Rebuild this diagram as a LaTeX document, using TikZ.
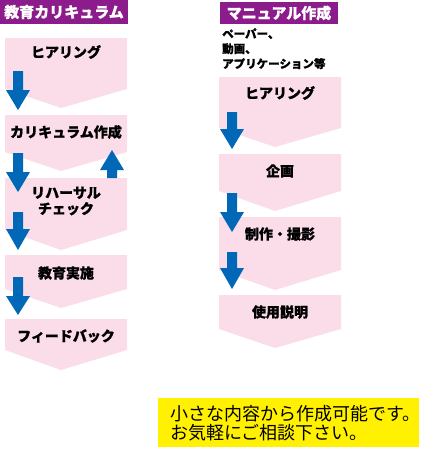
\documentclass[tikz,border=0pt]{standalone}
\usepackage{fontspec}
\setmainfont{Noto Sans CJK JP}[BoldFeatures={FakeBold=0.8}]
\definecolor{hdr}{HTML}{8C1C8C}
\definecolor{pinkbox}{HTML}{FADDE9}
\definecolor{arrblue}{HTML}{0068B7}
\definecolor{yel}{HTML}{FFF100}
\newcommand\chev[5]{\fill[pinkbox] (#1,#3) -- (#2,#3) -- (#2,#4) -- ({(#1+#2)/2-5},#5) -- (#1,#4) -- cycle;}
\newcommand\barrow[4]{\fill[arrblue] (#1-5,#2) -- (#1+5,#2) -- (#1+5,#3) -- (#1+12,#3) -- (#1,#4) -- (#1-12,#3) -- (#1-5,#3) -- cycle;}
\tikzset{
  hdrtext/.style={text=white,font=\fontsize{15}{16}\selectfont\bfseries,inner sep=0pt},
  boxtext/.style={text=black,font=\fontsize{14}{16}\selectfont\bfseries,inner sep=0pt,align=center},
  smalltext/.style={text=black,font=\fontsize{11.5}{15}\selectfont\bfseries,inner sep=0pt,align=left,anchor=north west},
  noteText/.style={text=black,font=\fontsize{18}{19}\selectfont,inner sep=0pt,align=left,anchor=west}
}
\begin{document}
\begin{tikzpicture}[x=1pt,y=-1pt]
\useasboundingbox (0,0) rectangle (437,450);
% headers
\fill[hdr] (0,0) rectangle (128,24);
\node[hdrtext] (h1) at (64,12) {教育カリキュラム};
\fill[hdr] (220,2) rectangle (338,24);
\node[hdrtext] (h2) at (279,13) {マニュアル作成};
\node[smalltext] (media) at (222,28) {ペーパー、\\動画、\\アプリケーション等};
% left column boxes
\chev{5}{127}{38}{89}{108}
\chev{5}{127}{115}{152}{171}
\chev{5}{127}{178}{230}{250}
\chev{5}{127}{255}{289}{308}
\chev{5}{127}{319}{350}{370}
\node[boxtext] (l1) at (66,52) {ヒアリング};
\node[boxtext] (l2) at (66,132) {カリキュラム作成};
\node[boxtext] (l3) at (66,201) {リハーサル\\チェック};
\node[boxtext] (l4) at (66,273) {教育実施};
\node[boxtext] (l5) at (66,336) {フィードバック};
% right column boxes
\chev{219}{341}{77}{128}{147}
\chev{219}{341}{154}{191}{211}
\chev{219}{341}{217}{270}{290}
\chev{219}{341}{295}{329}{348}
\node[boxtext] (r1) at (280,93) {ヒアリング};
\node[boxtext] (r2) at (280,171) {企画};
\node[boxtext] (r3) at (280,234) {制作・撮影};
\node[boxtext] (r4) at (280,312) {使用説明};
% arrows
\barrow{18}{71}{90}{110}
\barrow{18}{153}{172}{192}
\barrow{18}{212}{229}{250}
\barrow{18}{277}{296}{315}
\barrow{112}{178}{170}{150}
\barrow{232}{112}{129}{149}
\barrow{232}{193}{212}{232}
\barrow{232}{252}{268}{289}
% note
\fill[yel] (158,398) rectangle (419,447);
\node[noteText] (note) at (170,423.5) {小さな内容から作成可能です。\\お気軽にご相談下さい。};
\end{tikzpicture}
\end{document}
